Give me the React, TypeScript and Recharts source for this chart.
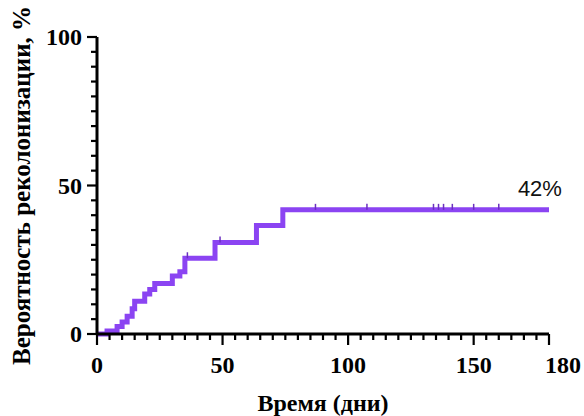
import React from "react";
import { ComposedChart, Line, Scatter, XAxis, YAxis, ReferenceDot } from "recharts";

// cumulative recolonization probability (step points), days / %
const eventDays = [0, 4, 8, 10, 12, 14, 15, 19, 21, 23, 30, 33, 35, 47, 63.5, 74, 180];
const probability = [0, 1, 2.5, 4, 6, 8.5, 11, 13.5, 15, 17, 19.5, 21, 25.5, 30.8, 36.5, 41.8, 41.8];

// censored observations
const censorDays = [36, 49, 87, 107.5, 134, 136, 138, 141.5, 150, 160];
const censorProbability = [25.5, 30.8, 41.8, 41.8, 41.8, 41.8, 41.8, 41.8, 41.8, 41.8];

const xTicks = Array.from({ length: 37 }, (_, i) => i * 5);
const xLabels = [0, 50, 100, 150, 180];
const yTicks = Array.from({ length: 21 }, (_, i) => i * 5);
const yLabels = [0, 50, 100];

const finalLabel = "42%";

const PURPLE = "#8b44f2";
const serifText = { fontFamily: "Liberation Serif", fontWeight: 700 };

const curve = eventDays.map((t, i) => ({ t, p: probability[i] }));
const censored = censorDays.map((t, i) => ({ t, p: censorProbability[i] }));

function XTick({ x, y, payload }: any) {
  const v = payload.value;
  const major = xLabels.includes(v);
  return (
    <g>
      <line x1={x} y1={y} x2={x} y2={y + (major ? 11 : 6)} stroke="#000" strokeWidth={2.2} />
      {major && (
        <text
          x={v === 180 ? x - 4 : x}
          y={y + 39}
          textAnchor={v === 180 ? "start" : "middle"}
          fontSize={24}
          fill="#000"
          style={serifText}
        >
          {v}
        </text>
      )}
    </g>
  );
}

function YTick({ x, y, payload }: any) {
  const v = payload.value;
  const major = yLabels.includes(v);
  return (
    <g>
      <line x1={x} y1={y} x2={x - (major ? 10 : 6)} y2={y} stroke="#000" strokeWidth={2.2} />
      {major && (
        <text x={x - 15} y={y + 8} textAnchor="end" fontSize={24} fill="#000" style={serifText}>
          {v}
        </text>
      )}
    </g>
  );
}

function CensorMark({ cx, cy }: any) {
  return <line x1={cx} y1={cy - 6} x2={cx} y2={cy} stroke="#6a2fc0" strokeWidth={1.5} />;
}

export default function App() {
  return (
    <div style={{ position: "fixed", left: 0, top: 0, width: 584, height: 416, background: "#fff" }}>
      <ComposedChart width={584} height={416} margin={{ top: 37, right: 35, bottom: 0, left: 0 }}>
        <XAxis
          type="number"
          dataKey="t"
          domain={[0, 180]}
          ticks={xTicks}
          interval={0}
          height={82}
          tickSize={0}
          tickMargin={0}
          tickLine={false}
          tick={<XTick />}
          axisLine={{ stroke: "#000", strokeWidth: 3 }}
          label={{
            value: "Время (дни)",
            position: "insideBottom",
            offset: 5,
            fontSize: 24,
            fill: "#000",
            style: serifText,
          }}
        />
        <YAxis
          type="number"
          dataKey="p"
          domain={[0, 100]}
          ticks={yTicks}
          interval={0}
          width={97}
          tickSize={0}
          tickMargin={0}
          tickLine={false}
          tick={<YTick />}
          axisLine={{ stroke: "#000", strokeWidth: 3 }}
          label={{
            value: "Вероятность реколонизации, %",
            angle: -90,
            position: "insideLeft",
            offset: 21,
            fontSize: 25,
            fill: "#000",
            style: { ...serifText, textAnchor: "middle" },
          }}
        />
        <Line
          data={curve}
          dataKey="p"
          type="stepAfter"
          stroke={PURPLE}
          strokeWidth={5}
          dot={false}
          isAnimationActive={false}
        />
        <Scatter data={censored} dataKey="p" shape={<CensorMark />} isAnimationActive={false} />
        <ReferenceDot
          x={180}
          y={probability[probability.length - 1]}
          r={0.1}
          fill="none"
          stroke="none"
          label={(props: any) => (
            <text
              x={props.viewBox.x - 9}
              y={props.viewBox.y - 14}
              textAnchor="middle"
              fontSize={22}
              fill="#111"
              style={{ fontFamily: "Liberation Sans" }}
            >
              {finalLabel}
            </text>
          )}
        />
      </ComposedChart>
    </div>
  );
}
